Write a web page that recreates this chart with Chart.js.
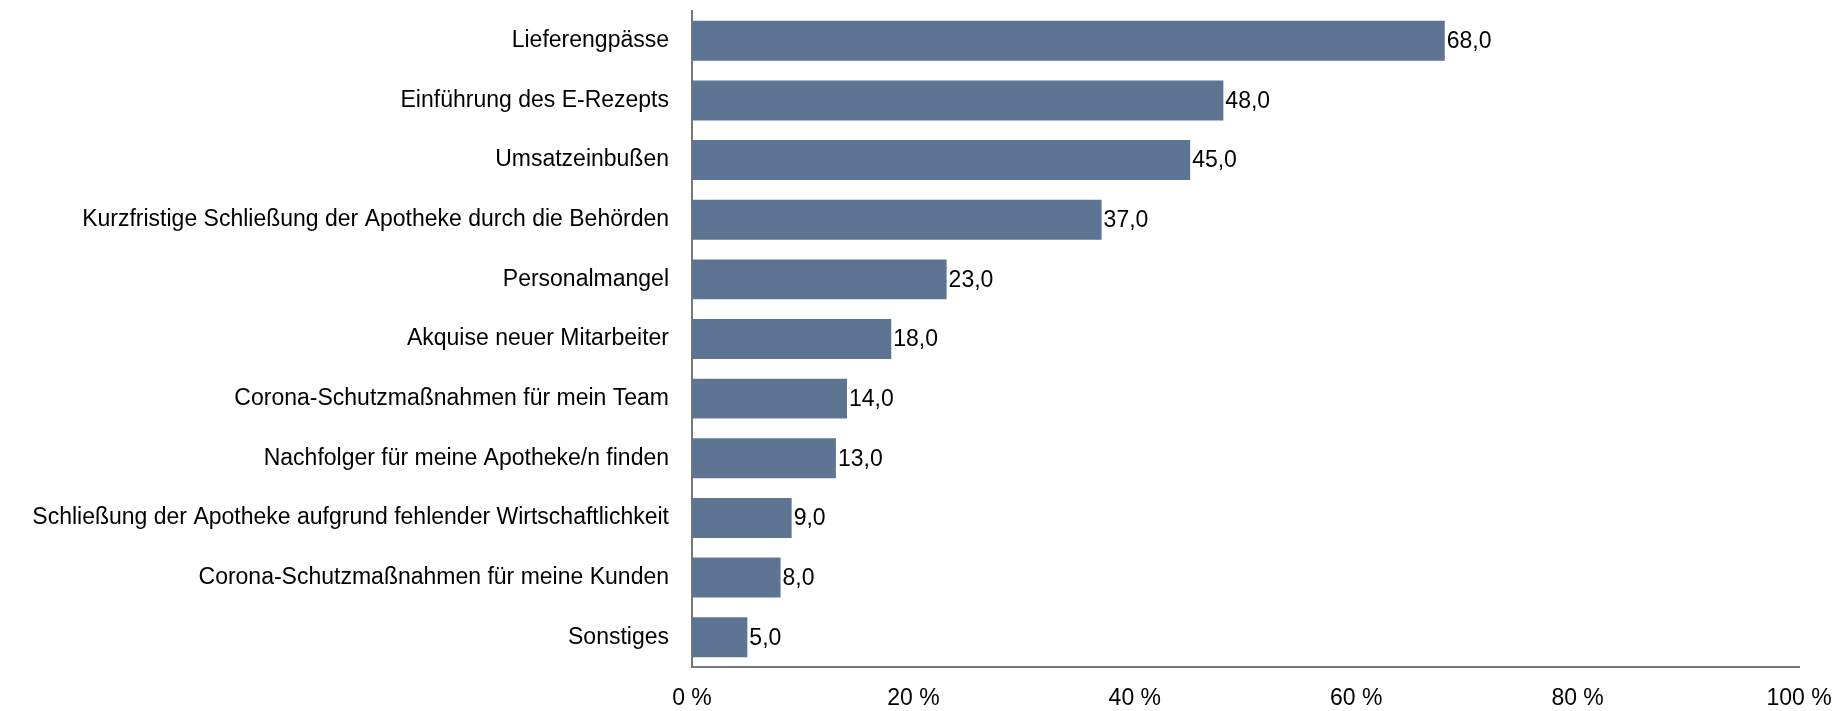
<!DOCTYPE html>
<html>
<head>
<meta charset="utf-8">
<script src="https://cdn.jsdelivr.net/npm/chart.js@4/dist/chart.umd.min.js"></script>
<style>
html,body{margin:0;padding:0;background:#fff;}
#wrap{width:1840px;height:711px;position:relative;}
</style>
</head>
<body>
<div id="wrap"><canvas id="c" width="1840" height="711"></canvas></div>
<script>
const categories = [
  "Lieferengpässe",
  "Einführung des E-Rezepts",
  "Umsatzeinbußen",
  "Kurzfristige Schließung der Apotheke durch die Behörden",
  "Personalmangel",
  "Akquise neuer Mitarbeiter",
  "Corona-Schutzmaßnahmen für mein Team",
  "Nachfolger für meine Apotheke/n finden",
  "Schließung der Apotheke aufgrund fehlender Wirtschaftlichkeit",
  "Corona-Schutzmaßnahmen für meine Kunden",
  "Sonstiges"
];
const values = [68, 48, 45, 37, 23, 18, 14, 13, 9, 8, 5];
const xTickValues = [0, 20, 40, 60, 80, 100];

const FONT = "'Liberation Sans', Arial, sans-serif";

const valueLabels = {
  id: 'valueLabels',
  afterDatasetsDraw(chart) {
    const ctx = chart.ctx;
    const meta = chart.getDatasetMeta(0);
    ctx.save();
    ctx.font = "23px " + FONT;
    ctx.fillStyle = "#000";
    ctx.textAlign = "left";
    ctx.textBaseline = "middle";
    meta.data.forEach((bar, i) => {
      const v = chart.data.datasets[0].data[i];
      ctx.fillText(v.toFixed(1).replace('.', ','), bar.x + 2, bar.y + 1);
    });
    ctx.restore();
  }
};

new Chart(document.getElementById('c'), {
  type: 'bar',
  data: {
    labels: categories,
    datasets: [{
      data: values,
      backgroundColor: '#5e7493',
      borderWidth: 0,
      categoryPercentage: 0.67,
      barPercentage: 1.0
    }]
  },
  options: {
    indexAxis: 'y',
    responsive: false,
    animation: false,
    devicePixelRatio: 1,
    layout: { padding: { top: 11, right: 41, left: 0, bottom: 0 } },
    plugins: { legend: { display: false }, tooltip: { enabled: false } },
    scales: {
      x: {
        min: 0, max: 100,
        afterBuildTicks(scale) { scale.ticks = xTickValues.map(v => ({ value: v })); },
        afterFit(scale) { scale.height = 44; scale.paddingLeft = 0; scale.paddingRight = 0; },
        grid: { display: false, drawTicks: false },
        border: { display: true, color: '#777777', width: 2 },
        ticks: {
          padding: 18,
          color: '#000',
          font: { family: FONT, size: 23 },
          maxRotation: 0,
          callback: v => v + ' %'
        }
      },
      y: {
        afterFit(scale) { scale.width = 692; scale.paddingTop = 0; scale.paddingBottom = 0; },
        grid: { display: false, drawTicks: false },
        border: { display: true, color: '#777777', width: 2 },
        ticks: {
          padding: 23,
          color: '#000',
          font: { family: FONT, size: 23 },
          autoSkip: false
        }
      }
    }
  },
  plugins: [valueLabels]
});
</script>
</body>
</html>
